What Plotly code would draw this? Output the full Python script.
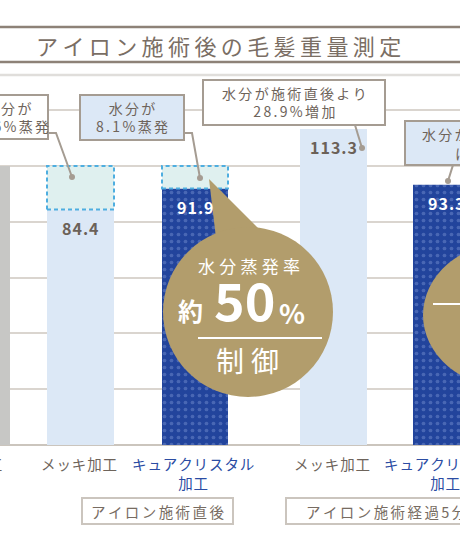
import plotly.graph_objects as go

W, H = 460, 552
BASE_PX, SCALE = 445, 2.79          # pixel of value 0, pixels per unit
FONT = "Noto Sans CJK JP"

# ---------------- data ----------------
categories = ["未加工", "メッキ加工", "キュアクリスタル<br>加工", "メッキ加工", "キュアクリスタル<br>加工"]
kinds = ["base", "plain", "cure", "plain", "cure"]
values = [100.0, 84.4, 91.9, 113.3, 93.3]
value_labels = ["", "84.4", "91.9", "113.3", "93.3"]
group_labels = ["アイロン施術直後", "アイロン施術経過5分後"]
callout_texts = ["水分が<br>15.6%蒸発", "水分が<br>8.1%蒸発",
                 "水分が施術直後より<br>28.9%増加", "水分が施術直後より"]
title_text = "アイロン施術後の毛髪重量測定"
grid_vals = [20, 40, 60, 80, 100, 120]

# ---------------- layout helpers ----------------
bar_x = [-20, 80.5, 195, 333.5, 446.5]
bar_w = [60, 67, 66, 67, 67]
colors = {"base": "#c7c7c5", "plain": "#dce8f6", "cure": "#22449c"}
label_colors = {"base": "#6e645b", "plain": "#6e645b", "cure": "#2b4ca3"}

HAIR, SIXTH, THIN, FOUR = "\u200a", "\u2006", "\u2009", "\u2005"

def X(p):
    return p / W

def Y(p):
    return 1 - p / H

def sp(s, c=HAIR):
    return "<br>".join(c.join(list(line)) for line in s.split("<br>"))

def pann(px, py, text, size, color, xanchor="center", yanchor="middle", align="center"):
    return dict(x=X(px), y=Y(py), xref="paper", yref="paper", text=text,
                showarrow=False, xanchor=xanchor, yanchor=yanchor, align=align,
                font=dict(family=FONT, size=size, color=color))

fig = go.Figure()

for kind in ["base", "plain", "cure"]:
    idx = [i for i, k in enumerate(kinds) if k == kind]
    marker = dict(color=colors[kind], line=dict(width=0))
    if kind == "cure":
        marker["pattern"] = dict(shape=".", fgcolor="#7089cb", size=7,
                                 solidity=0.22, fillmode="overlay")
    fig.add_trace(go.Bar(x=[bar_x[i] for i in idx], y=[values[i] for i in idx],
                         width=[bar_w[i] for i in idx], marker=marker,
                         hoverinfo="skip", showlegend=False))

shapes = []
annotations = []

# evaporation dashed boxes (from value up to untreated reference)
ref = values[0]
for i in [1, 2]:
    shapes.append(dict(type="rect", xref="x", yref="y",
                       x0=bar_x[i] - bar_w[i] / 2, x1=bar_x[i] + bar_w[i] / 2,
                       y0=values[i], y1=ref, fillcolor="#dff0ef",
                       line=dict(color="#4eaee0", width=2, dash="4px,3px")))

# value labels
for i, lab in enumerate(value_labels):
    if not lab:
        continue
    annotations.append(dict(x=bar_x[i], y=values[i], xref="x", yref="y",
                            text="<b>" + sp(lab) + "</b>", showarrow=False,
                            xanchor="center", yanchor="top", yshift=-4,
                            font=dict(family=FONT, size=16,
                                      color="white" if kinds[i] == "cure" else "#6b6158")))

# category labels
for i, cat in enumerate(categories):
    xa, xx = "center", bar_x[i] - 2
    if i == 0:
        xa, xx = "right", 4
    annotations.append(pann(xx, 451, sp(cat, HAIR), 14.5, label_colors[kinds[i]],
                            xanchor=xa, yanchor="top"))

# group label boxes
grp_boxes = [(82, 233), (286, 505)]
for (x0, x1), g, tx, xa in zip(grp_boxes, group_labels, [157, 304], ["center", "left"]):
    shapes.append(dict(type="rect", xref="paper", yref="paper",
                       x0=X(x0), x1=X(x1), y0=Y(498), y1=Y(524),
                       fillcolor="white", line=dict(color="#cbc5be", width=2)))
    annotations.append(pann(tx, 511, sp(g, SIXTH), 14.5, "#776c62", xanchor=xa))

# title
for yy in [27, 62]:
    shapes.append(dict(type="line", xref="paper", yref="paper", x0=0, x1=1,
                       y0=Y(yy), y1=Y(yy), line=dict(color="#8d8277", width=2.5)))
shapes.append(dict(type="line", xref="paper", yref="paper", x0=0, x1=1,
                   y0=Y(75), y1=Y(75), line=dict(color="#e0dedb", width=2.5)))
annotations.append(pann(218, 45, sp(title_text, THIN), 22, "#7a6e64"))

# callout boxes
LC = "#a59c92"
boxes = [(-60, 48, 95, 139, "white"), (80, 184, 95, 140, "#dce8f6"),
         (203, 385, 80, 125, "white"), (405, 520, 121, 165, "#dce8f6")]
for (x0, x1, y0, y1, fc) in boxes:
    shapes.append(dict(type="rect", xref="paper", yref="paper",
                       x0=X(x0), x1=X(x1), y0=Y(y0), y1=Y(y1),
                       fillcolor=fc, line=dict(color=LC, width=2)))
call_pos = [(8, 117, "center"), (132, 117, "center"), (294, 102, "center"), (420, 134, "left")]
for (cx, cy, xa), t in zip(call_pos, callout_texts):
    annotations.append(pann(cx, cy, sp(t, SIXTH), 14, "#6e645b", xanchor=xa))
annotations.append(pann(453, 153, sp("に留まる", SIXTH), 14, "#6e645b", xanchor="left"))

# leaders
leaders = [[(48, 133), (56, 133), (72, 177)],
           [(184, 133), (192, 133), (200, 178)],
           [(355, 125), (362, 148)],
           [(453, 165), (448, 181)]]
for pts in leaders:
    path = "M " + " L ".join(f"{X(a)} {Y(b)}" for a, b in pts)
    shapes.append(dict(type="path", xref="paper", yref="paper", path=path,
                       line=dict(color=LC, width=2)))
    ex, ey = pts[-1]
    shapes.append(dict(type="circle", xref="paper", yref="paper",
                       x0=X(ex - 3), x1=X(ex + 3), y0=Y(ey - 3), y1=Y(ey + 3),
                       fillcolor=LC, line=dict(width=0)))

# bubble 1
GOLD = "#b29d6c"
shapes.append(dict(type="path", xref="paper", yref="paper",
                   path=f"M {X(209)} {Y(179)} L {X(218)} {Y(255)} L {X(266)} {Y(236)} Z",
                   fillcolor=GOLD, line=dict(width=0)))
shapes.append(dict(type="circle", xref="paper", yref="paper",
                   x0=X(163), x1=X(333), y0=Y(227), y1=Y(397),
                   fillcolor=GOLD, line=dict(width=0)))
shapes.append(dict(type="line", xref="paper", yref="paper",
                   x0=X(198), x1=X(322), y0=Y(338), y1=Y(338),
                   line=dict(color="white", width=2)))
annotations += [
    pann(249, 266, sp("水分蒸発率", FOUR), 17, "white"),
    pann(190, 310, "<b>約</b>", 25, "white"),
    pann(244, 298, "<b>50</b>", 52, "white"),
    pann(292, 312, "<b>%</b>", 27, "white"),
    pann(247, 360, sp("制御", FOUR), 28, "white"),
]

# bubble 2 (partially visible)
shapes.append(dict(type="circle", xref="paper", yref="paper",
                   x0=X(423), x1=X(591), y0=Y(243), y1=Y(387),
                   fillcolor=GOLD, line=dict(width=0)))
shapes.append(dict(type="line", xref="paper", yref="paper",
                   x0=X(433), x1=X(470), y0=Y(304), y1=Y(304),
                   line=dict(color="white", width=2)))

fig.update_layout(
    width=W, height=H, margin=dict(l=0, r=0, t=0, b=0),
    paper_bgcolor="white", plot_bgcolor="white", barmode="overlay",
    showlegend=False, shapes=shapes, annotations=annotations,
    xaxis=dict(range=[0, W], visible=False, fixedrange=True),
    yaxis=dict(range=[(BASE_PX - H) / SCALE, BASE_PX / SCALE], tickvals=grid_vals,
               showticklabels=False, showgrid=True, gridcolor="#dad5cf", gridwidth=2,
               zeroline=True, zerolinecolor="#cbc5bd", zerolinewidth=2,
               showline=False, ticks="", fixedrange=True),
)
fig.write_html("out.html")
